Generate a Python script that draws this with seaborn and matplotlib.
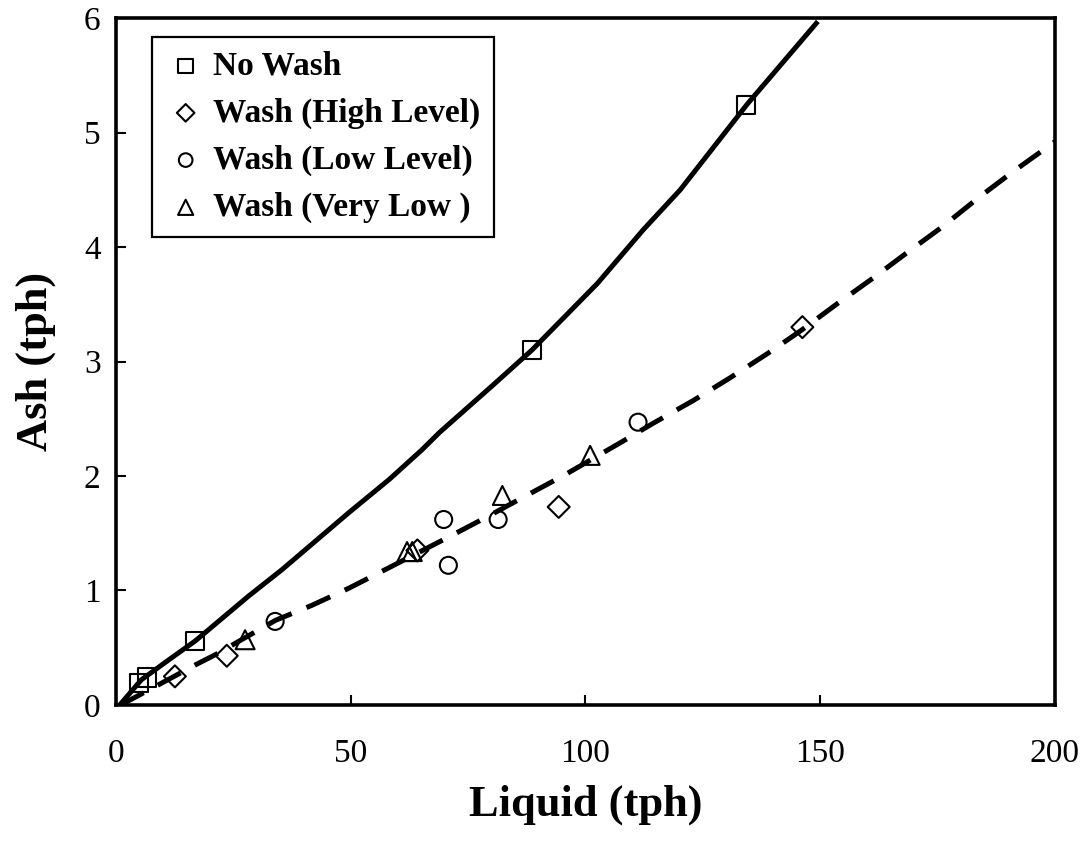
import matplotlib
matplotlib.use('Agg')
import matplotlib.pyplot as plt
import seaborn as sns

# ---- data ----
nowash_x = [4.85, 6.7, 16.8, 88.6, 134.1]
nowash_y = [0.19, 0.24, 0.56, 3.10, 5.24]

high_x = [12.55, 23.6, 64.2, 94.3, 146.2]
high_y = [0.25, 0.43, 1.35, 1.73, 3.30]

low_x = [33.9, 69.8, 70.8, 81.4, 111.2]
low_y = [0.73, 1.62, 1.22, 1.62, 2.47]

vlow_x = [27.5, 62.0, 63.1, 82.3, 101.0]
vlow_y = [0.57, 1.34, 1.34, 1.83, 2.18]

# fitted curves
solid_x = [0.8, 5.4, 11.1, 16.9, 28.2, 35.3, 49.6, 58.2, 65.2, 68.9, 80.2, 88.6,
           102.5, 112.3, 120.2, 134.5, 149.5]
solid_y = [0.0, 0.22, 0.39, 0.56, 0.95, 1.18, 1.68, 1.97, 2.23, 2.38, 2.79, 3.10,
           3.68, 4.15, 4.50, 5.25, 5.97]

dash_x = [1.0, 9.0, 16.9, 21.2, 34.0, 41.7, 49.6, 58.2, 71.0, 78.9, 87.0, 95.6,
          107.4, 114.4, 123.0, 130.9, 138.8, 145.9, 153.8, 161.3, 168.8, 175.8,
          183.7, 190.8, 200.0]
dash_y = [0.0, 0.175, 0.35, 0.44, 0.74, 0.87, 1.02, 1.20, 1.47, 1.64, 1.82, 2.01,
          2.29, 2.46, 2.66, 2.86, 3.07, 3.27, 3.51, 3.73, 3.96, 4.17,
          4.43, 4.65, 4.92]

x_ticks = [0, 50, 100, 150, 200]
y_ticks = [0, 1, 2, 3, 4, 5, 6]

labels = ['No Wash', 'Wash (High Level)', 'Wash (Low Level)', 'Wash (Very Low )']

# ---- style ----
sns.set_style('ticks')
plt.rcParams['font.family'] = ['Liberation Serif', 'DejaVu Serif']
plt.rcParams['text.color'] = 'black'
plt.rcParams['axes.labelcolor'] = 'black'
plt.rcParams['xtick.color'] = 'black'
plt.rcParams['ytick.color'] = 'black'
plt.rcParams['xtick.labelcolor'] = 'black'
plt.rcParams['ytick.labelcolor'] = 'black'

fig = plt.figure(figsize=(10.86, 8.5), dpi=100)
ax = fig.add_axes([0.1068, 0.1706, 0.8646, 0.8082])

series = [
    (nowash_x, nowash_y, 's', 169, labels[0]),
    (high_x, high_y, 'D', 125, labels[1]),
    (low_x, low_y, 'o', 150, labels[2]),
    (vlow_x, vlow_y, '^', 187, labels[3]),
]
handles = []
for xs, ys, mk, sz, lab in series:
    sns.scatterplot(x=xs, y=ys, ax=ax, marker=mk, s=sz, facecolor='none',
                    edgecolor='black', linewidth=1.5, label=lab, zorder=2)
    handles.append(ax.collections[-1])

sns.lineplot(x=solid_x, y=solid_y, ax=ax, color='black', linewidth=3.6,
             sort=False, estimator=None, zorder=3)
sns.lineplot(x=dash_x, y=dash_y, ax=ax, color='black', linewidth=3.6,
             sort=False, estimator=None, zorder=3)
ax.lines[-1].set_dashes([5.2, 3.2])
for ln in ax.lines:
    ln.set_solid_capstyle('butt')
    ln.set_dash_capstyle('butt')

ax.set_xlim(0, 200)
ax.set_ylim(0, 6)
ax.set_xticks(x_ticks)
ax.set_yticks(y_ticks)

for sp in ax.spines.values():
    sp.set_visible(True)
    sp.set_color('black')
    sp.set_linewidth(2.6)

ax.tick_params(axis='both', direction='in', length=7, width=1.5, colors='black',
               labelcolor='black', labelsize=24, top=False, right=False)
ax.tick_params(axis='x', pad=24)
ax.tick_params(axis='y', pad=11)

ax.set_xlabel('Liquid (tph)', fontsize=32, fontweight='bold', labelpad=11,
              color='black')
ax.set_ylabel('Ash (tph)', fontsize=32, fontweight='bold', labelpad=20,
              color='black')

leg = ax.legend(handles=handles, labels=labels, loc='upper left',
                bbox_to_anchor=(0.038, 0.972), borderaxespad=0,
                prop={'family': ['Liberation Serif'], 'weight': 'bold', 'size': 24},
                markerscale=0.8, handlelength=1.24, handletextpad=0.2,
                labelspacing=0.48, borderpad=0.4, frameon=True, fancybox=False,
                shadow=False, framealpha=1)
leg.get_frame().set_edgecolor('black')
leg.get_frame().set_linewidth(1.6)
for t in leg.get_texts():
    t.set_color('black')

fig.savefig('out.png', dpi=100, facecolor='white')
